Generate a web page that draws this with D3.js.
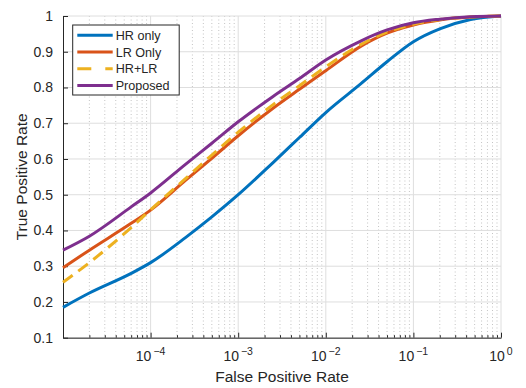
<!DOCTYPE html>
<html>
<head>
<meta charset="utf-8">
<script src="https://cdn.jsdelivr.net/npm/d3@7"></script>
<style>
body{margin:0;background:#fff;}
svg text{font-family:"Liberation Sans",Arial,sans-serif;fill:#262626;}
</style>
</head>
<body>
<div id="plot"></div>
<script>
//ROC curves, log x axis
var fpr = [1e-5,2e-5,6e-5,1e-4,2.5e-4,5e-4,1e-3,2.5e-3,5e-3,1e-2,2.5e-2,5e-2,1e-1,2e-1,4.5e-1,1];
var hrOnly   = [0.185,0.225,0.28,0.31,0.38,0.438,0.50,0.59,0.66,0.73,0.81,0.872,0.928,0.964,0.99,1.0];
var lrOnly   = [0.296,0.345,0.42,0.457,0.54,0.602,0.665,0.742,0.795,0.847,0.915,0.952,0.975,0.989,0.997,1.0];
var hrLr     = [0.255,0.31,0.408,0.458,0.545,0.611,0.675,0.752,0.805,0.858,0.92,0.955,0.977,0.99,0.997,1.0];
var proposed = [0.345,0.384,0.466,0.505,0.585,0.644,0.704,0.775,0.825,0.877,0.93,0.961,0.981,0.991,0.998,1.0];

var seriesNames = ['HR only','LR Only','HR+LR','Proposed'];
var yTicks = [0.1,0.2,0.3,0.4,0.5,0.6,0.7,0.8,0.9,1];
var xTicks = [1e-4,1e-3,1e-2,1e-1,1];
var xTickExp = ['-4','-3','-2','-1','0'];

var COLORS = ['#0072BD','#D95319','#EDB120','#7E2F8E'];
var W = 526, H = 388;
var m = {t:16,r:25,b:50.3,l:63},
	w = W - m.l - m.r,
	h = H - m.t - m.b;

var svg = d3.select('#plot').append('svg')
	.attr('width',W).attr('height',H);
var plot = svg.append('g').attr('transform','translate('+m.l+','+m.t+')');

var scaleX = d3.scaleLog().domain([1e-5,1]).range([0,w]),
	scaleY = d3.scaleLinear().domain([0.1,1]).range([h,0]);

//minor x values 2..9 per decade
var minorX = [];
[1e-5,1e-4,1e-3,1e-2,1e-1].forEach(function(dec){
	for(var k=2;k<=9;k++) minorX.push(dec*k);
});

//grid
plot.append('g').selectAll('line').data(minorX).enter().append('line')
	.attr('x1',function(d){return scaleX(d)}).attr('x2',function(d){return scaleX(d)})
	.attr('y1',0).attr('y2',h)
	.attr('stroke','#c4c4c4').attr('stroke-width',1).attr('stroke-dasharray','1,2.5');
plot.append('g').selectAll('line').data(xTicks).enter().append('line')
	.attr('x1',function(d){return scaleX(d)}).attr('x2',function(d){return scaleX(d)})
	.attr('y1',0).attr('y2',h)
	.attr('stroke','#dedede').attr('stroke-width',1);
plot.append('g').selectAll('line').data(yTicks).enter().append('line')
	.attr('x1',0).attr('x2',w)
	.attr('y1',function(d){return scaleY(d)}).attr('y2',function(d){return scaleY(d)})
	.attr('stroke','#dedede').attr('stroke-width',1);

//axes
var yAxis = d3.axisLeft(scaleY).tickValues(yTicks).tickSizeInner(-5).tickSizeOuter(0).tickPadding(10)
	.tickFormat(function(d){return d3.format('.1f')(d).replace('1.0','1')});
var yAxisNode = plot.append('g').attr('class','axis axis-y').call(yAxis);
yAxisNode.selectAll('text').style('font-size','14px').attr('fill','#262626');

var xAxis = d3.axisBottom(scaleX).tickValues(xTicks).tickSizeInner(-5).tickSizeOuter(0).tickFormat('');
var xAxisNode = plot.append('g').attr('class','axis axis-x').attr('transform','translate(0,'+h+')').call(xAxis);
var xMinor = d3.axisBottom(scaleX).tickValues(minorX).tickSizeInner(-2.5).tickSizeOuter(0).tickFormat('');
var xMinorNode = plot.append('g').attr('transform','translate(0,'+h+')').call(xMinor);
xMinorNode.select('.domain').remove();
svg.selectAll('.domain, .tick line').attr('stroke','#262626');

//x tick labels as 10^n
var xLabels = plot.append('g').selectAll('text').data(xTicks).enter().append('text')
	.attr('x',function(d){return scaleX(d)}).attr('y',h+23.5)
	.attr('text-anchor','middle').style('font-size','14px');
xLabels.append('tspan').text('10');
xLabels.append('tspan').attr('dx',2).attr('dy',-6).style('font-size','10.5px')
	.text(function(d,i){return xTickExp[i].replace('-','\u2212')});

//axis titles
svg.append('text').attr('x',m.l+w/2).attr('y',381.5).attr('text-anchor','middle')
	.style('font-size','15.5px').text('False Positive Rate');
svg.append('text').attr('transform','translate(27,'+(m.t+h/2)+') rotate(-90)')
	.attr('text-anchor','middle').style('font-size','15.5px').text('True Positive Rate');

//curves
var allSeries = [hrOnly,lrOnly,hrLr,proposed];
var line = d3.line()
	.x(function(d,i){return scaleX(fpr[i])})
	.y(function(d){return scaleY(d)})
	.curve(d3.curveMonotoneX);
plot.append('g').selectAll('path').data(allSeries).enter().append('path')
	.attr('d',line)
	.attr('fill','none')
	.attr('stroke',function(d,i){return COLORS[i]})
	.attr('stroke-width',3)
	.attr('stroke-dasharray',function(d,i){return i===2?'12,7':null});

//legend
var lg = svg.append('g').attr('transform','translate(72.7,25)');
lg.append('rect').attr('width',106.5).attr('height',70)
	.attr('fill','#fff').attr('stroke','#262626').attr('stroke-width',1);
var rows = lg.selectAll('.row').data(seriesNames).enter().append('g')
	.attr('transform',function(d,i){return 'translate(0,'+(10.3+i*16.7)+')'});
rows.append('line').attr('x1',4.6).attr('x2',40)
	.attr('stroke',function(d,i){return COLORS[i]}).attr('stroke-width',3)
	.attr('stroke-dasharray',function(d,i){return i===2?'14,14':null});
rows.append('text').attr('x',43).attr('dy','0.36em').style('font-size','12.6px')
	.text(function(d){return d});
</script>
</body>
</html>
